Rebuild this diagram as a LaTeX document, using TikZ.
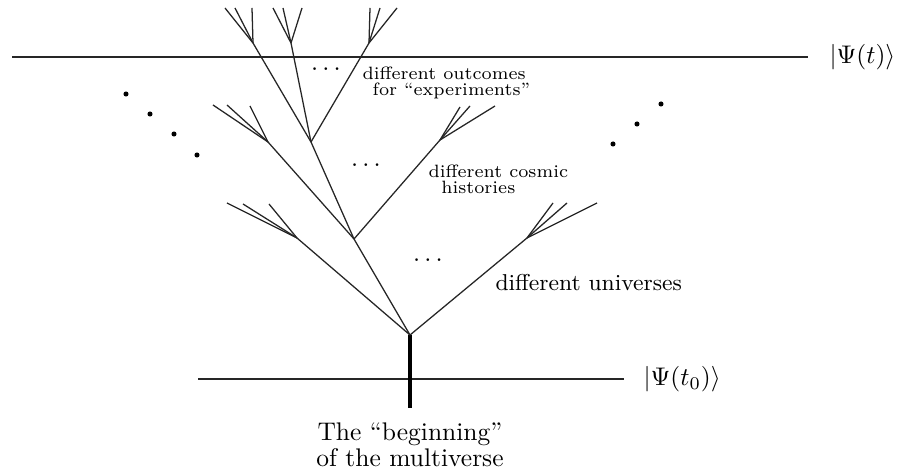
\documentclass[tikz,border=0pt]{standalone}
\usepackage{amsmath,amssymb}
\usepackage{tikz}

\tikzset{
  branch/.style={line width=0.5pt, black!85},
  slice/.style={line width=0.6pt, black!85},
  trunk/.style={line width=1.7pt, black},
  note/.style={inner sep=0pt, anchor=north west, align=left},
}

\begin{document}
\begin{tikzpicture}[x=0.3922pt,y=-0.3922pt]
  \useasboundingbox (0,0) rectangle (901,470);
  % time slices
  \coordinate (tl) at (12,57);
  \coordinate (tr) at (808,57);
  \coordinate (bl) at (198,379);
  \coordinate (br) at (624,379);
  \draw[slice] (tl) -- (tr);
  \draw[slice] (bl) -- (br);
  \node[anchor=west, inner sep=0pt] (psit) at (829,57) {$|\Psi(t)\rangle$};
  \node[anchor=west, inner sep=0pt] (psi0) at (643,379) {$|\Psi(t_0)\rangle$};

  % the tree
  \coordinate (root) at (410,335);
  \coordinate (base) at (410,408);
  \coordinate (a) at (297,238);
  \coordinate (b) at (354,239);
  \coordinate (c) at (527,238);
  \coordinate (d) at (268,142);
  \coordinate (e) at (311,142);
  \coordinate (f) at (440,140);
  \coordinate (g) at (253,43);
  \coordinate (h) at (291,43);
  \coordinate (i) at (369,43);
  \draw[trunk] (base) -- (root);
  \foreach \p/\q in {root/a,root/b,root/c,b/d,b/e,b/f,e/g,e/h,e/i} {
      \draw[branch] (\p) -- (\q);
    }
  % twigs
  \foreach \f/\n/\x/\y in {a/1/227/203,a/2/243/204,a/3/269/204,
                           c/1/553/203,c/2/567/203,c/3/597/203,
                           d/1/213/105,d/2/227/105,d/3/250/106,
                           f/1/460/107,f/2/470/106,f/3/495/106,
                           g/1/225/8,g/2/235/8,g/3/252/8,
                           h/1/273/8,h/2/283/8,h/3/302/8,
                           i/1/370/8,i/2/380/8,i/3/397/8} {
      \coordinate (\f\n) at (\x,\y);
      \draw[branch] (\f) -- (\f\n);
    }

  % more branches out of sight
  \foreach \x/\y in {126/94,150/114,174/134,197/155,613/144,637/124,661/104} {
      \fill[black] (\x,\y) circle (1pt);
    }
  \node[anchor=base, inner sep=0pt] (dots3) at (328,76) {$\cdots$};
  \node[anchor=base, inner sep=0pt] (dots2) at (368,172) {$\cdots$};
  \node[anchor=base, inner sep=0pt] (dots1) at (430,267) {$\cdots$};

  % labels
  \node[note, font=\fontsize{7}{6.3}\selectfont] (outcomes) at (362,66)
    {different outcomes\\\hspace{4pt}for ``experiments''};
  \node[note, font=\fontsize{7}{6.3}\selectfont] (cosmic) at (428,164)
    {different cosmic\\\hspace{5pt}histories};
  \node[note, font=\fontsize{9}{10}\selectfont] (universes) at (495,274)
    {different universes};
  \node[note, anchor=north, align=center, font=\fontsize{10}{10.2}\selectfont] (start) at (410,422)
    {The ``beginning''\\of the multiverse};
\end{tikzpicture}
\end{document}
